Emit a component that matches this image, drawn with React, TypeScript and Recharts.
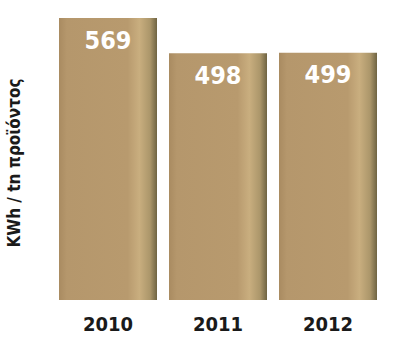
import { BarChart, Bar, XAxis, YAxis, LabelList } from 'recharts'

const years = ['2010', '2011', '2012']
const kwhPerTon = [569, 498, 499]
const yLabel = 'KWh / tn προϊόντος'

const data = years.map((year, i) => ({ year, value: kwhPerTon[i] }))

const font = '"DejaVu Sans Condensed", "Liberation Sans", Arial, sans-serif'

export default function App() {
    return (
        <div style={{ position: 'absolute', left: 0, top: 0, width: 393, height: 337, background: '#ffffff' }}>
            <BarChart
                width={393}
                height={337}
                data={data}
                margin={{ top: 18, right: 10, bottom: 0, left: 0 }}
                barSize={98}
            >
                <defs>
                    <linearGradient id="boxFill" x1="0" y1="0" x2="1" y2="0">
                        <stop offset="0%" stopColor="#a98b61" />
                        <stop offset="8%" stopColor="#b5976c" />
                        <stop offset="70%" stopColor="#b89a6e" />
                        <stop offset="82%" stopColor="#c9ae7f" />
                        <stop offset="93%" stopColor="#ab966a" />
                        <stop offset="100%" stopColor="#6f6443" />
                    </linearGradient>
                </defs>
                <XAxis
                    dataKey="year"
                    axisLine={false}
                    tickLine={false}
                    tickSize={0}
                    tickMargin={17}
                    height={37}
                    tick={{ fill: '#1a1a1a', fontSize: 20, fontWeight: 700, fontFamily: font }}
                />
                <YAxis
                    domain={[0, 569]}
                    width={53}
                    axisLine={false}
                    tickLine={false}
                    tick={false}
                    label={{
                        value: yLabel,
                        angle: -90,
                        position: 'insideLeft',
                        offset: 14,
                        dy: 4,
                        style: { textAnchor: 'middle', fill: '#1a1a1a', fontSize: 17, fontWeight: 700, fontFamily: font },
                    }}
                />
                <Bar dataKey="value" fill="url(#boxFill)" isAnimationActive={false}>
                    <LabelList
                        dataKey="value"
                        position="insideTop"
                        offset={13}
                        style={{ fill: '#ffffff', fontSize: 25, fontWeight: 700, fontFamily: font }}
                    />
                </Bar>
            </BarChart>
        </div>
    )
}
